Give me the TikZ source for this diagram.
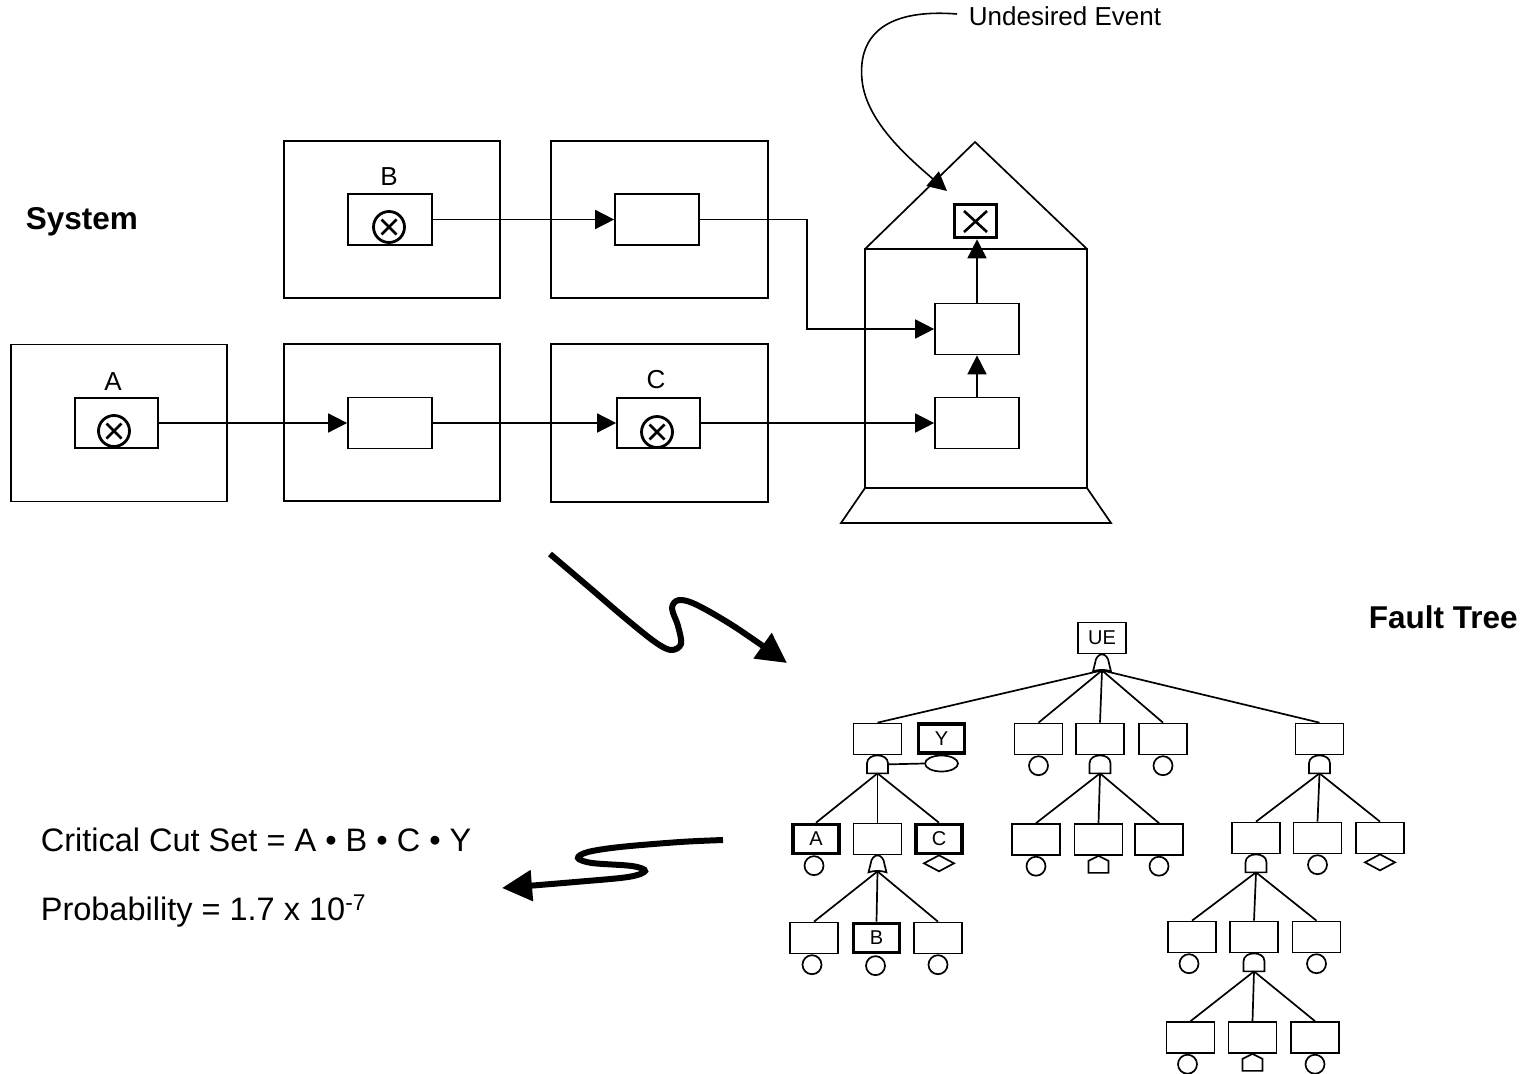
\documentclass[tikz,border=0pt]{standalone}
\usepackage{fontspec}
\setmainfont{Liberation Sans}
\usetikzlibrary{arrows.meta,shapes.geometric}
\begin{document}
\begin{tikzpicture}[x=1pt,y=-1pt,line width=1.7pt]
\tikzset{
 sysbox/.style={draw,inner sep=0pt,minimum width=216pt,minimum height=157pt},
 compbox/.style={draw,inner sep=0pt,minimum width=84pt,minimum height=51pt},
 flow/.style={line width=1.6pt,-{Triangle[length=19pt,width=19pt]}},
 lbl/.style={font=\fontsize{26}{31}\selectfont,inner sep=0pt},
 big/.style={font=\fontsize{32.5}{38}\selectfont,inner sep=0pt},
 bigb/.style={font=\fontsize{31.5}{37}\selectfont\bfseries,inner sep=0pt},
 ev/.style={draw,line width=1.7pt,inner sep=0pt,minimum width=48pt,minimum height=31pt,font=\fontsize{20}{24}\selectfont},
 evk/.style={ev,line width=3.6pt,minimum width=46pt,minimum height=29pt},
 circ/.style={draw,circle,inner sep=0pt,minimum size=19pt,anchor=north,fill=white},
 squig/.style={line width=6pt,-{Triangle[length=30pt,width=30pt]}},
 otimes/.pic={
  \draw[line width=2.8pt] (0,0) circle (15.5);
  \draw[line width=2.8pt] (-7.5,-7.5) -- (7.5,7.5) (-7.5,7.5) -- (7.5,-7.5);
 },
 andgate/.pic={
  \draw[fill=white] (-10.5,18) -- (-10.5,8) .. controls (-10.5,2.5) and (-5,0) .. (0,0) .. controls (5,0) and (10.5,2.5) .. (10.5,8) -- (10.5,18) -- cycle;
  \coordinate (-out) at (0,18);
  \coordinate (-east) at (10.5,9);
 },
 orgate/.pic={
  \draw[fill=white] (-9,17) -- (-7,9) .. controls (-6.5,3) and (-3,0) .. (0,0) .. controls (3,0) and (6.5,3) .. (7,9) -- (9,17) .. controls (3,15) and (-3,15) .. cycle;
  \coordinate (-out) at (0,16);
 },
 housev/.pic={
  \draw[fill=white] (-10,17) -- (-10,5) -- (0,0) -- (10,5) -- (10,17) -- cycle;
 },
 diamondv/.pic={
  \draw[fill=white] (-15,8) -- (0,0) -- (15,8) -- (0,16) -- cycle;
 }
}
\useasboundingbox (0,0) rectangle (1530,1073);

% ---------------- System ----------------
\node[bigb,anchor=base west] (systxt) at (25,229) {System};

\node[sysbox] (sA) at (119,423) {};
\node[sysbox] (sM) at (392,422.5) {};
\node[sysbox] (sB) at (392,219.5) {};
\node[sysbox,minimum width=217pt] (sT) at (659.5,219.5) {};
\node[sysbox,minimum width=217pt,minimum height=158pt] (sC) at (659.5,423) {};

\node[compbox,minimum width=83pt,minimum height=50pt] (cA) at (116.5,423) {};
\node[compbox] (cM) at (390,423) {};
\node[compbox] (cB) at (390,219.5) {};
\node[compbox] (cT) at (657,219.5) {};
\node[compbox,minimum width=83pt,minimum height=50pt] (cC) at (658.5,423) {};

\node[lbl] (lA) at (113,382) {A};
\node[lbl] (lB) at (389,177) {B};
\node[lbl] (lC) at (656,380) {C};
\pic at (114,431) {otimes};
\pic at (389,227) {otimes};
\pic at (657,432) {otimes};

% house
\draw (865,249) -- (975,142) -- (1087,249);
\draw (865,249) rectangle (1087,488);
\draw (865,488) -- (841,523) -- (1111,523) -- (1087,488);

\node[compbox] (hU) at (977,329) {};
\node[compbox] (hL) at (977,423) {};
\node[draw,line width=3.6pt,inner sep=0pt,minimum width=42pt,minimum height=33pt] (xb) at (975.5,221) {};
\draw[line width=2.6pt] (964,211) -- (987,232) (964,232) -- (987,211);

\draw[flow] (cA.east) -- (cM.west);
\draw[flow] (cM.east) -- (cC.west);
\draw[flow] (cB.east) -- (cT.west);
\coordinate (bend) at (807,329);
\draw[flow] (cT.east) -| (bend) -- (hU.west);
\draw[flow] (cC.east) -- (hL.west);
\draw[flow] (hL.north) -- (hU.south);
\draw[flow] (hU.north) -- (hU.north |- xb.south);

% undesired event
\node[lbl,anchor=base west] (uetxt) at (968,26) {Undesired Event};
\coordinate (uestart) at (957,14);
\coordinate (uetip) at (947,191);
\draw[flow] (uestart) .. controls (880,8) and (858,40) .. (862,80) .. controls (866,120) and (905,155) .. (uetip);

% squiggly arrows
\draw[squig] plot[smooth,tension=0.55] coordinates {(550,554) (590,588) (625,618) (655,642) (671,650) (681,644) (678,626) (672,608) (679,600) (697,605) (735,627) (787,663)};
\draw[squig] plot[smooth,tension=0.55] coordinates {(723,840) (680,842) (620,847) (588,852) (578,858) (592,863) (632,866) (645,871) (628,877) (575,882) (502,888)};

% texts
\node[big,anchor=base west] (cut) at (40,851) {Critical Cut Set = A • B • C • Y};
\node[big,anchor=base west] (prob) at (40,920) {Probability = 1.7 x 10\textsuperscript{-7}};
\node[bigb,anchor=base west] (fttxt) at (1368,628) {Fault Tree};

% ---------------- Fault tree ----------------
\node[ev] (UE) at (1102,638) {UE};
\pic (gUE) at (UE.south) {orgate};

\node[ev] (a1) at (877.5,739) {};
\node[evk] (Y) at (941.5,738.5) {Y};
\node[ev] (b1) at (1038.5,739) {};
\node[ev] (c1) at (1100,739) {};
\node[ev] (d1) at (1163,739) {};
\node[ev] (e1) at (1319.5,739) {};
\foreach \n in {a1,b1,c1,d1,e1} \draw (gUE-out) -- (\n.north);

\pic (ga1) at (a1.south) {andgate};
\node[draw,ellipse,inner sep=0pt,minimum width=33pt,minimum height=16pt] (yell) at (941.5,763.5) {};
\draw (ga1-east) -- (yell.west);
\node[circ] (b1c) at (b1.south) {};
\pic (gc1) at (c1.south) {andgate};
\node[circ] (d1c) at (d1.south) {};
\pic (ge1) at (e1.south) {andgate};

% level 2 left
\node[evk] (A2) at (816,839) {A};
\node[ev] (m2) at (877.5,839) {};
\node[evk] (C2) at (939,839) {C};
\foreach \n in {A2,m2,C2} \draw (ga1-out) -- (\n.north);
\node[circ] (A2c) at ([xshift=-2pt]A2.south) {};
\pic (gm2) at (m2.south) {orgate};
\pic at (C2.south) {diamondv};

% level 2 middle
\node[ev] (M1) at (1036,839.5) {};
\node[ev] (M2) at (1098.5,839.5) {};
\node[ev] (M3) at (1159,839.5) {};
\foreach \n in {M1,M2,M3} \draw (gc1-out) -- (\n.north);
\node[circ] (M1c) at (M1.south) {};
\pic at (M2.south) {housev};
\node[circ] (M3c) at (M3.south) {};

% level 2 right
\node[ev] (R1) at (1256,838) {};
\node[ev] (R2) at (1317.5,838) {};
\node[ev] (R3) at (1380,838) {};
\foreach \n in {R1,R2,R3} \draw (ge1-out) -- (\n.north);
\pic (gR1) at (R1.south) {andgate};
\node[circ] (R2c) at (R2.south) {};
\pic at (R3.south) {diamondv};

% level 3 left
\node[ev] (L1) at (814,938) {};
\node[evk] (B3) at (876.5,938) {B};
\node[ev] (L3) at (938,938) {};
\foreach \n in {L1,B3,L3} \draw (gm2-out) -- (\n.north);
\node[circ] (L1c) at ([xshift=-2pt]L1.south) {};
\node[circ] (B3c) at ([xshift=-1pt,yshift=-1pt]B3.south) {};
\node[circ] (L3c) at (L3.south) {};

% level 3 right
\node[ev] (S1) at (1192,937) {};
\node[ev] (S2) at (1254,937) {};
\node[ev] (S3) at (1316.5,937) {};
\foreach \n in {S1,S2,S3} \draw (gR1-out) -- (\n.north);
\node[circ] (S1c) at ([xshift=-3pt]S1.south) {};
\pic (gS2) at (S2.south) {andgate};
\node[circ] (S3c) at (S3.south) {};

% level 4
\node[ev] (Q1) at (1190.5,1037.5) {};
\node[ev] (Q2) at (1252.5,1037.5) {};
\node[ev] (Q3) at (1315,1037.5) {};
\foreach \n in {Q1,Q2,Q3} \draw (gS2-out) -- (\n.north);
\node[circ] (Q1c) at ([xshift=-3pt]Q1.south) {};
\pic at (Q2.south) {housev};
\node[circ] (Q3c) at (Q3.south) {};
\end{tikzpicture}
\end{document}
